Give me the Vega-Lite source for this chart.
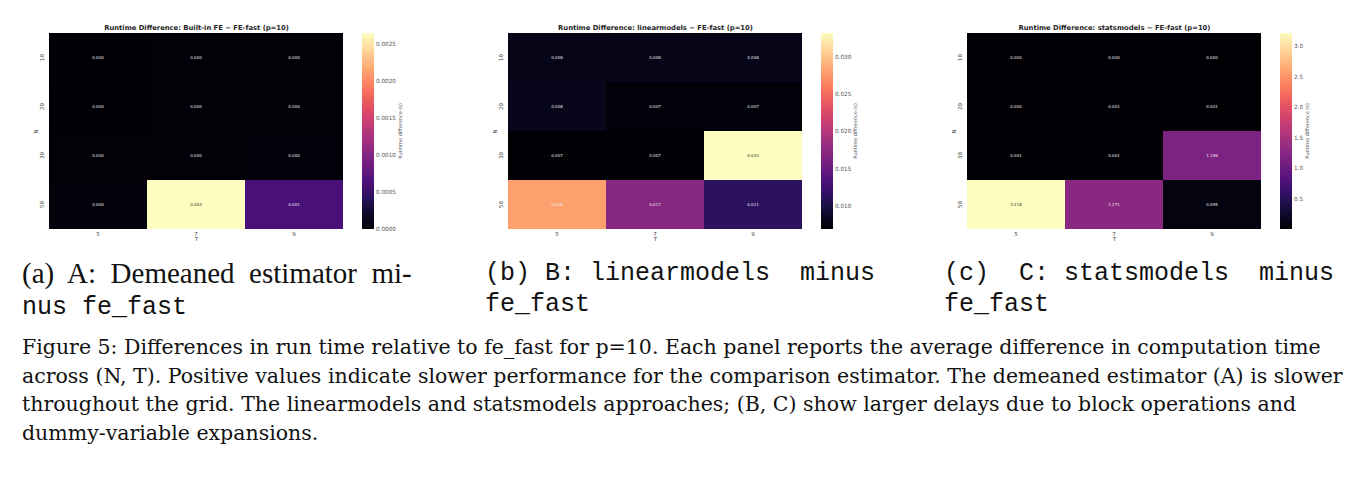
{
  "$schema": "https://vega.github.io/schema/vega-lite/v6.json",
  "background": "white",
  "padding": {"left": 22, "top": 24, "right": 5, "bottom": 5},
  "datasets": {
    "builtin": [
      {"T": 5, "N": 10, "diff": 0.0}, {"T": 7, "N": 10, "diff": 0.00002}, {"T": 9, "N": 10, "diff": 0.00002},
      {"T": 5, "N": 20, "diff": 0.00001}, {"T": 7, "N": 20, "diff": 0.00002}, {"T": 9, "N": 20, "diff": 0.00002},
      {"T": 5, "N": 30, "diff": 0.00002}, {"T": 7, "N": 30, "diff": 0.00002}, {"T": 9, "N": 30, "diff": 0.00003},
      {"T": 5, "N": 50, "diff": 0.00004}, {"T": 7, "N": 50, "diff": 0.00265}, {"T": 9, "N": 50, "diff": 0.00062}
    ],
    "linearmodels": [
      {"T": 5, "N": 10, "diff": 0.0081}, {"T": 7, "N": 10, "diff": 0.0080}, {"T": 9, "N": 10, "diff": 0.0081},
      {"T": 5, "N": 20, "diff": 0.0082}, {"T": 7, "N": 20, "diff": 0.0072}, {"T": 9, "N": 20, "diff": 0.0072},
      {"T": 5, "N": 30, "diff": 0.0069}, {"T": 7, "N": 30, "diff": 0.0070}, {"T": 9, "N": 30, "diff": 0.0332},
      {"T": 5, "N": 50, "diff": 0.0280}, {"T": 7, "N": 50, "diff": 0.0170}, {"T": 9, "N": 50, "diff": 0.0112}
    ],
    "statsmodels": [
      {"T": 5, "N": 10, "diff": 0.0002}, {"T": 7, "N": 10, "diff": 0.0003}, {"T": 9, "N": 10, "diff": 0.0003},
      {"T": 5, "N": 20, "diff": 0.0004}, {"T": 7, "N": 20, "diff": 0.0008}, {"T": 9, "N": 20, "diff": 0.0009},
      {"T": 5, "N": 30, "diff": 0.0010}, {"T": 7, "N": 30, "diff": 0.0011}, {"T": 9, "N": 30, "diff": 1.156},
      {"T": 5, "N": 50, "diff": 3.218}, {"T": 7, "N": 50, "diff": 1.271}, {"T": 9, "N": 50, "diff": 0.095}
    ]
  },
  "title": {
    "text": [
      "Figure 5: Differences in run time relative to fe_fast for p=10. Each panel reports the average difference in computation time",
      "across (N, T). Positive values indicate slower performance for the comparison estimator. The demeaned estimator (A) is slower",
      "throughout the grid. The linearmodels and statsmodels approaches; (B, C) show larger delays due to block operations and",
      "dummy-variable expansions."
    ],
    "orient": "bottom",
    "anchor": "start",
    "font": "DejaVu Serif",
    "fontSize": 20.5,
    "fontWeight": "normal",
    "lineHeight": 28.5,
    "color": "#111111",
    "offset": 19
  },
  "config": {
    "view": {"stroke": null, "fill": "#000004"},
    "font": "DejaVu Sans",
    "axis": {
      "domain": false,
      "ticks": false,
      "grid": false,
      "labelFont": "DejaVu Sans",
      "labelFontSize": 5.5,
      "labelColor": "#444444",
      "titleFont": "DejaVu Sans",
      "titleFontSize": 5.5,
      "titleFontWeight": "normal",
      "titleColor": "#444444"
    },
    "legend": {
      "orient": "right",
      "offset": 19,
      "padding": 0,
      "gradientLength": 196,
      "gradientThickness": 12,
      "gradientStrokeWidth": 0,
      "labelFont": "DejaVu Sans",
      "labelFontSize": 5.7,
      "labelColor": "#555555",
      "labelOffset": 3,
      "titleFont": "DejaVu Sans",
      "titleFontSize": 5,
      "titleFontWeight": "normal",
      "titleColor": "#555555",
      "titleOrient": "right",
      "titleAnchor": "middle",
      "titlePadding": 7
    }
  },
  "hconcat": [
    {
      "width": 294,
      "height": 196,
      "data": {"name": "builtin"},
      "title": {
        "text": "(a)\u00a0 A:\u00a0 Demeaned\u00a0 estimator\u00a0 mi-",
        "subtitle": "nus fe_fast",
        "orient": "bottom", "anchor": "start", "frame": "group", "dx": -27, "offset": 18,
        "font": "Liberation Serif", "fontSize": 29, "fontWeight": "normal", "color": "#111111",
        "subtitleFont": "Liberation Mono", "subtitleFontSize": 25, "subtitleColor": "#111111", "subtitlePadding": 5
      },
      "encoding": {
        "y": {"field": "N", "type": "ordinal", "axis": {"title": "N", "labelAngle": -90, "labelPadding": 5, "titlePadding": 1}}
      },
      "layer": [
        {
          "mark": {"type": "rect"},
          "encoding": {
            "x": {"field": "T", "type": "ordinal", "axis": {"title": "T", "labelAngle": 0, "labelPadding": 2, "titlePadding": 0}},
            "color": {
              "field": "diff", "type": "quantitative",
              "scale": {"scheme": "magma", "nice": false, "zero": false},
              "legend": {
                "title": "Runtime difference (s)",
                "values": [0, 0.0005, 0.001, 0.0015, 0.002, 0.0025],
                "format": ".4f",
                "encode": {"title": {"update": {"angle": {"value": 270}}}, "labels": {"update": {"baseline": {"value": "middle"}}}}
              }
            }
          }
        },
        {
          "mark": {"type": "text", "font": "DejaVu Sans", "fontSize": 4},
          "encoding": {
            "x": {"field": "T", "type": "ordinal", "axis": {"orient": "top", "labels": false, "title": "Runtime Difference: Built-in FE − FE-fast (p=10)", "titleFontWeight": "bold", "titleFontSize": 6.8, "titleColor": "#262626", "titlePadding": 3}},
            "text": {"field": "diff", "format": ".3f"},
            "color": {"condition": {"test": "datum.diff > 0.002", "value": "#262626"}, "value": "#eeeeee"}
          }
        }
      ],
      "resolve": {"scale": {"x": "independent"}, "axis": {"x": "independent"}}
    },
    {
      "width": 294,
      "height": 196,
      "data": {"name": "linearmodels"},
      "title": {
        "text": "(b) B: linearmodels\u00a0 minus",
        "subtitle": "fe_fast",
        "orient": "bottom", "anchor": "start", "frame": "group", "dx": -23, "offset": 18,
        "font": "Liberation Mono", "fontSize": 25, "fontWeight": "normal", "color": "#111111",
        "subtitleFont": "Liberation Mono", "subtitleFontSize": 25, "subtitleColor": "#111111", "subtitlePadding": 6
      },
      "encoding": {
        "y": {"field": "N", "type": "ordinal", "axis": {"title": "N", "labelAngle": -90, "labelPadding": 5, "titlePadding": 1}}
      },
      "layer": [
        {
          "mark": {"type": "rect"},
          "encoding": {
            "x": {"field": "T", "type": "ordinal", "axis": {"title": "T", "labelAngle": 0, "labelPadding": 2, "titlePadding": 0}},
            "color": {
              "field": "diff", "type": "quantitative",
              "scale": {"scheme": "magma", "nice": false, "zero": false},
              "legend": {
                "title": "Runtime difference (s)",
                "values": [0.010, 0.015, 0.020, 0.025, 0.030],
                "format": ".3f",
                "encode": {"title": {"update": {"angle": {"value": 270}}}, "labels": {"update": {"baseline": {"value": "middle"}}}}
              }
            }
          }
        },
        {
          "mark": {"type": "text", "font": "DejaVu Sans", "fontSize": 4},
          "encoding": {
            "x": {"field": "T", "type": "ordinal", "axis": {"orient": "top", "labels": false, "title": "Runtime Difference: linearmodels − FE-fast (p=10)", "titleFontWeight": "bold", "titleFontSize": 6.8, "titleColor": "#262626", "titlePadding": 3}},
            "text": {"field": "diff", "format": ".3f"},
            "color": {"condition": {"test": "datum.diff > 0.031", "value": "#262626"}, "value": "#eeeeee"}
          }
        }
      ],
      "resolve": {"scale": {"x": "independent"}, "axis": {"x": "independent"}}
    },
    {
      "width": 294,
      "height": 196,
      "data": {"name": "statsmodels"},
      "title": {
        "text": "(c)\u00a0 C: statsmodels\u00a0 minus",
        "subtitle": "fe_fast",
        "orient": "bottom", "anchor": "start", "frame": "group", "dx": -23, "offset": 18,
        "font": "Liberation Mono", "fontSize": 25, "fontWeight": "normal", "color": "#111111",
        "subtitleFont": "Liberation Mono", "subtitleFontSize": 25, "subtitleColor": "#111111", "subtitlePadding": 6
      },
      "encoding": {
        "y": {"field": "N", "type": "ordinal", "axis": {"title": "N", "labelAngle": -90, "labelPadding": 5, "titlePadding": 1}}
      },
      "layer": [
        {
          "mark": {"type": "rect"},
          "encoding": {
            "x": {"field": "T", "type": "ordinal", "axis": {"title": "T", "labelAngle": 0, "labelPadding": 2, "titlePadding": 0}},
            "color": {
              "field": "diff", "type": "quantitative",
              "scale": {"scheme": "magma", "nice": false, "zero": false},
              "legend": {
                "title": "Runtime difference (s)",
                "values": [0.5, 1.0, 1.5, 2.0, 2.5, 3.0],
                "format": ".1f",
                "encode": {"title": {"update": {"angle": {"value": 270}}}, "labels": {"update": {"baseline": {"value": "middle"}}}}
              }
            }
          }
        },
        {
          "mark": {"type": "text", "font": "DejaVu Sans", "fontSize": 4},
          "encoding": {
            "x": {"field": "T", "type": "ordinal", "axis": {"orient": "top", "labels": false, "title": "Runtime Difference: statsmodels − FE-fast (p=10)", "titleFontWeight": "bold", "titleFontSize": 6.8, "titleColor": "#262626", "titlePadding": 3}},
            "text": {"field": "diff", "format": ".3f"},
            "color": {"condition": {"test": "datum.diff > 3", "value": "#262626"}, "value": "#eeeeee"}
          }
        }
      ],
      "resolve": {"scale": {"x": "independent"}, "axis": {"x": "independent"}}
    }
  ],
  "resolve": {"scale": {"color": "independent"}, "legend": {"color": "independent"}},
  "bounds": "flush",
  "spacing": 165
}
